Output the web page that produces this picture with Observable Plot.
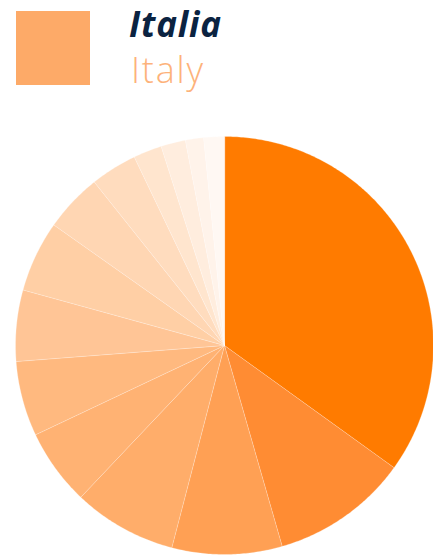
<!DOCTYPE html>
<html>
<head>
<meta charset="utf-8">
<script src="https://cdn.jsdelivr.net/npm/d3@7"></script>
<script src="https://cdn.jsdelivr.net/npm/@observablehq/plot@0.6"></script>
<style>
  html, body { margin: 0; padding: 0; background: #fff; }
  #wrap { width: 433px; height: 558px; position: relative; overflow: hidden; }
  #header { position: relative; height: 128px; width: 433px; }
  #swatch { position: absolute; left: 16px; top: 11px; width: 74px; height: 74px; background: #FDAA68; }
  #title { position: absolute; left: 129px; top: 4px; font-family: "Open Sans", sans-serif; font-weight: 700; font-style: italic; font-size: 35px; line-height: 40px; color: #0B2341; letter-spacing: 0.8px; }
  #subtitle { position: absolute; left: 131px; top: 50px; font-family: "Open Sans", sans-serif; font-weight: 300; font-size: 36px; line-height: 40px; color: #FDB27A; letter-spacing: 1.8px; }
  #chart svg { display: block; }
</style>
</head>
<body>
<div id="wrap">
  <div id="header">
    <div id="swatch"></div>
    <div id="title">Italia</div>
    <div id="subtitle">Italy</div>
  </div>
  <div id="chart"></div>
</div>
<script>
// Slice categories (in drawing order, clockwise from 12 o'clock)
const slices = ["S1","S2","S3","S4","S5","S6","S7","S8","S9","S10","S11","S12","S13","S14"];
// Shares (%)
const shares = [34.9, 10.6, 8.5, 8.0, 5.9, 5.8, 5.5, 5.5, 4.5, 3.6, 2.2, 1.9, 1.4, 1.6];

const table = slices.map((s, i) => ({slice: s, value: shares[i]}));
const arcs = d3.pie().sort(null).value(d => d.value)(table);

// Build polygon outlines for each slice from the pie layout (unit circle)
const pts = [];
for (const a of arcs) {
  const s = a.data.slice;
  pts.push({slice: s, x: 0, y: 0});
  const n = Math.max(2, Math.ceil((a.endAngle - a.startAngle) / 0.01));
  for (let k = 0; k <= n; k++) {
    const t = a.startAngle + (a.endAngle - a.startAngle) * k / n;
    pts.push({slice: s, x: Math.sin(t), y: Math.cos(t)});
  }
}

const R = 209, cx = 224, cy = 217;
const chart = Plot.plot({
  width: 433,
  height: 430,
  margin: 0,
  x: {domain: [-1, 1], range: [cx - R, cx + R], axis: null},
  y: {domain: [-1, 1], range: [cy + R, cy - R], axis: null},
  color: {
    type: "ordinal",
    domain: slices,
    range: ["#FF7B00","#FF8C33","#FFA054","#FFAD6A","#FFB273","#FFB97F","#FFC596","#FFCFA5","#FFD6B3","#FFDCBE","#FFE5CE","#FFEDDE","#FFF3EA","#FFF8F3"]
  },
  marks: [
    Plot.line(pts, {x: "x", y: "y", z: "slice", fill: "slice", stroke: "white", strokeWidth: 0.25, curve: "linear-closed"})
  ]
});
document.getElementById("chart").appendChild(chart);
</script>
</body>
</html>
